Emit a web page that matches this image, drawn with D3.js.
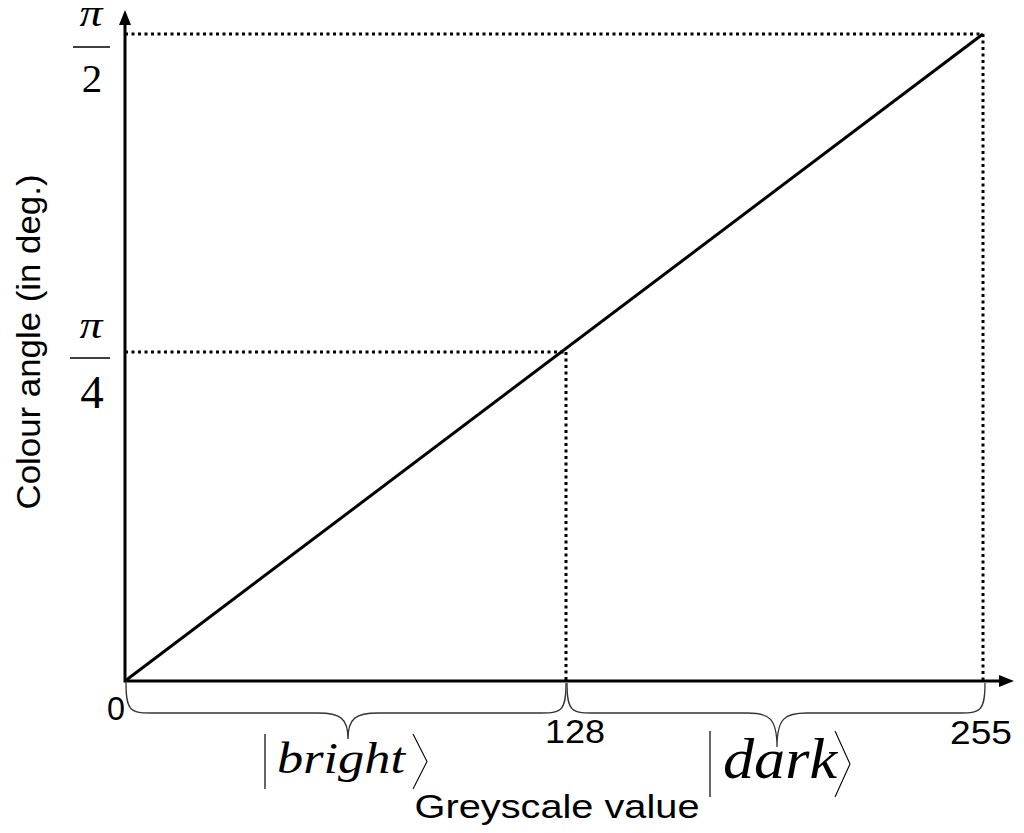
<!DOCTYPE html>
<html><head><meta charset="utf-8">
<script src="https://cdn.jsdelivr.net/npm/d3@7"></script>
<style>body{margin:0;background:#fff}</style>
</head><body>
<svg id="c" width="1024" height="833"></svg>
<script>
// Data
const xTicks = [0, 128, 255];
const xTickLabels = ["0", "128", "255"];
const yTicks = [Math.PI / 4, Math.PI / 2];
const yTickDenoms = ["4", "2"];
const linePoints = [[0, 0], [255, Math.PI / 2]];
const guidePoints = [[128, Math.PI / 4], [255, Math.PI / 2]];
const braces = [{from: 0, to: 128, label: "bright"}, {from: 128, to: 255, label: "dark"}];

const svg = d3.select("#c");
const x = d3.scaleLinear().domain([0, 128, 255]).range([125, 566, 983]);
const y = d3.scaleLinear().domain([0, Math.PI / 4, Math.PI / 2]).range([681, 352, 34]);
const SANS = "Liberation Sans, Arial, sans-serif";
const SERIF = "Liberation Serif, Times New Roman, serif";

// dotted guides
guidePoints.forEach(([gx, gy]) => {
  svg.append("line").attr("x1", x(0)).attr("x2", x(gx)).attr("y1", y(gy)).attr("y2", y(gy))
    .attr("stroke", "#000").attr("stroke-width", 3).attr("stroke-dasharray", "3,3.5");
  svg.append("line").attr("x1", x(gx)).attr("x2", x(gx)).attr("y1", y(gy)).attr("y2", y(0))
    .attr("stroke", "#000").attr("stroke-width", 3).attr("stroke-dasharray", "3,3.5");
});

// main line
svg.append("path").datum(linePoints)
  .attr("d", d3.line().x(d => x(d[0])).y(d => y(d[1])))
  .attr("stroke", "#000").attr("stroke-width", 3).attr("fill", "none");

// axes
svg.append("line").attr("x1", x(0)).attr("x2", 1003).attr("y1", y(0)).attr("y2", y(0))
  .attr("stroke", "#000").attr("stroke-width", 3);
svg.append("path").attr("d", `M1014,${y(0)} L999,${y(0) - 6} L999,${y(0) + 6} Z`).attr("fill", "#000");
svg.append("line").attr("x1", x(0)).attr("x2", x(0)).attr("y1", y(0) + 1.5).attr("y2", 20)
  .attr("stroke", "#000").attr("stroke-width", 3);
svg.append("path").attr("d", `M${x(0)},10 L${x(0) - 6},25 L${x(0) + 6},25 Z`).attr("fill", "#000");

// x tick labels
const xlab = [{cx: 116, by: 720, w: 18}, {cx: 575, by: 743, w: 60}, {cx: 981, by: 744, w: 62}];
xTicks.forEach((t, i) => {
  svg.append("text").attr("x", xlab[i].cx).attr("y", xlab[i].by).attr("text-anchor", "middle")
    .attr("font-family", SANS).attr("font-size", 33)
    .attr("textLength", xlab[i].w).attr("lengthAdjust", "spacingAndGlyphs")
    .text(xTickLabels[i]);
});

// y tick labels (fractions)
const yfr = [{pi: 338, bar: 358, bx1: 70, den: 408, dsize: 47},
             {pi: 26, bar: 47, bx1: 73, den: 92, dsize: 41}];
yTicks.forEach((t, i) => {
  const o = yfr[i];
  const g = svg.append("g").attr("font-family", SERIF);
  g.append("text").attr("x", 91).attr("y", o.pi).attr("text-anchor", "middle")
    .attr("font-size", 37).attr("font-style", "italic")
    .attr("textLength", 23).attr("lengthAdjust", "spacingAndGlyphs").text("π");
  g.append("line").attr("x1", o.bx1).attr("x2", 110).attr("y1", o.bar).attr("y2", o.bar)
    .attr("stroke", "#000").attr("stroke-width", 1.5);
  g.append("text").attr("x", 92).attr("y", o.den).attr("text-anchor", "middle")
    .attr("font-size", o.dsize).text(yTickDenoms[i]);
});

// braces
function bracePath(x1, x2, y0, yh, ytip, m) {
  const r = 30;
  return `M${x1},${y0} C${x1},${yh} ${x1 + 5},${yh} ${x1 + r},${yh} L${m - r},${yh} C${m - 8},${yh} ${m},${yh + 5} ${m},${ytip}` +
         ` M${x2},${y0} C${x2},${yh} ${x2 - 5},${yh} ${x2 - r},${yh} L${m + r},${yh} C${m + 8},${yh} ${m},${yh + 5} ${m},${ytip}`;
}
const bOpts = [{tip: 739, m: 348, lx: 341, by: 773, size: 44, w: 128, bar: [265, 734, 789], ang: [413, 427]},
               {tip: 747, m: 777, lx: 780, by: 778, size: 56, w: 114, bar: [710, 731, 797], ang: [835, 850]}];
braces.forEach((b, i) => {
  const o = bOpts[i];
  svg.append("path").attr("d", bracePath(x(b.from) + 1, x(b.to) + (i === 1 ? 2 : 0), y(0) + 2, 713, o.tip, o.m))
    .attr("fill", "none").attr("stroke", "#333").attr("stroke-width", 1.3);
  svg.append("line").attr("x1", o.bar[0]).attr("x2", o.bar[0]).attr("y1", o.bar[1]).attr("y2", o.bar[2])
    .attr("stroke", "#000").attr("stroke-width", 1.2);
  const mid = (o.bar[1] + o.bar[2]) / 2;
  svg.append("path").attr("d", `M${o.ang[0]},${o.bar[1]} L${o.ang[1]},${mid} L${o.ang[0]},${o.bar[2]}`)
    .attr("fill", "none").attr("stroke", "#000").attr("stroke-width", 1.1);
  svg.append("text").attr("x", o.lx).attr("y", o.by).attr("text-anchor", "middle")
    .attr("font-family", SERIF).attr("font-style", "italic")
    .attr("font-size", o.size).attr("textLength", o.w).attr("lengthAdjust", "spacingAndGlyphs")
    .text(b.label);
});

// axis titles
svg.append("text").attr("x", 557).attr("y", 818).attr("text-anchor", "middle")
  .attr("font-family", SANS).attr("font-size", 34)
  .attr("textLength", 285).attr("lengthAdjust", "spacingAndGlyphs").text("Greyscale value");
svg.append("text").attr("transform", "translate(40,342) rotate(-90)").attr("text-anchor", "middle")
  .attr("font-family", SANS).attr("font-size", 34)
  .attr("textLength", 335).attr("lengthAdjust", "spacingAndGlyphs").text("Colour angle (in deg.)");
</script>
</body></html>
